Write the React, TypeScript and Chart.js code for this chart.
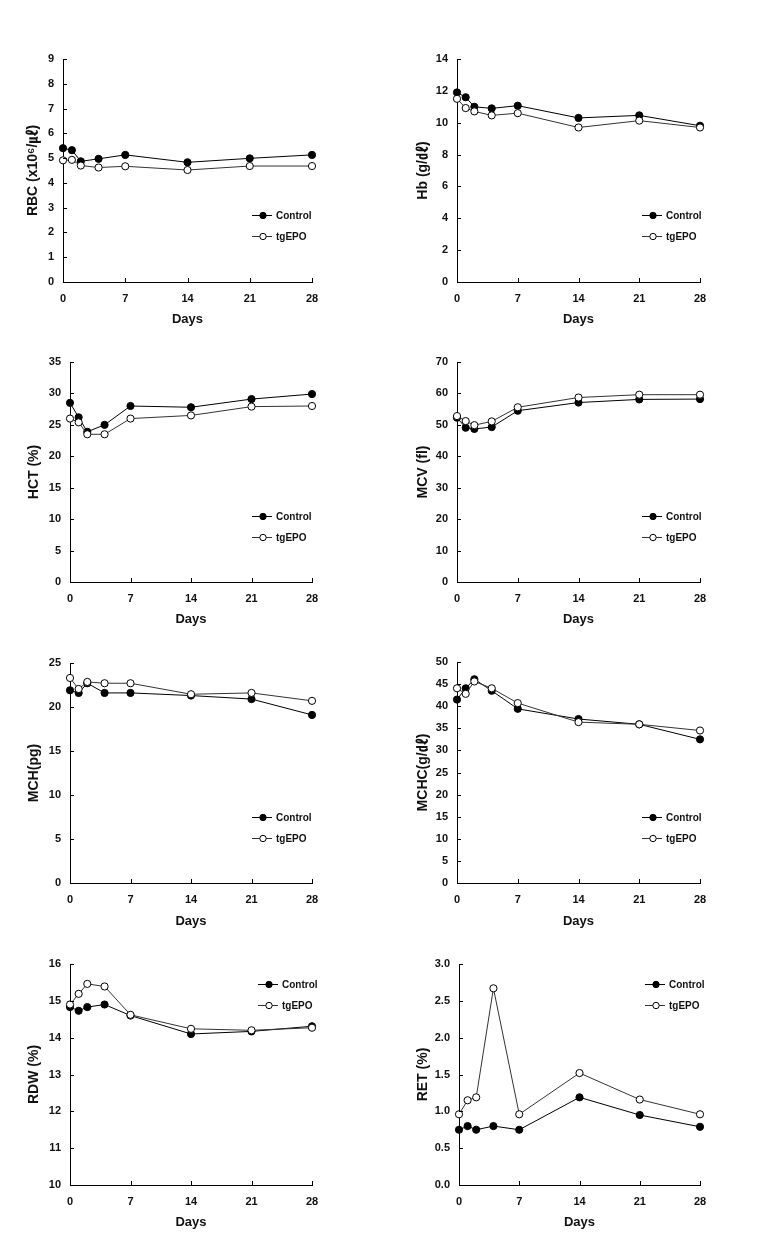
import React, { useEffect, useRef } from "react";
import { Chart, registerables } from "chart.js";

Chart.register(...registerables);

// ---------- data ----------
const days = [0, 1, 2, 4, 7, 14, 21, 28];
const dayTicks = [0, 7, 14, 21, 28];
const seriesNames = ["Control", "tgEPO"];

const rbcControl = [5.4, 5.32, 4.87, 4.97, 5.13, 4.83, 4.99, 5.13];
const rbcTgEPO = [4.91, 4.93, 4.7, 4.62, 4.67, 4.52, 4.68, 4.68];
const rbcTicks = [0, 1, 2, 3, 4, 5, 6, 7, 8, 9];

const hbControl = [11.9, 11.6, 11.0, 10.9, 11.07, 10.3, 10.46, 9.81];
const hbTgEPO = [11.5, 10.92, 10.71, 10.46, 10.6, 9.7, 10.13, 9.7];
const hbTicks = [0, 2, 4, 6, 8, 10, 12, 14];

const hctControl = [28.5, 26.2, 23.9, 25.0, 28.0, 27.8, 29.1, 29.9];
const hctTgEPO = [26.0, 25.4, 23.5, 23.5, 26.0, 26.5, 27.9, 28.0];
const hctTicks = [0, 5, 10, 15, 20, 25, 30, 35];

const mcvControl = [52.3, 49.1, 48.7, 49.3, 54.5, 57.1, 58.1, 58.2];
const mcvTgEPO = [52.8, 51.2, 49.9, 51.1, 55.6, 58.7, 59.6, 59.6];
const mcvTicks = [0, 10, 20, 30, 40, 50, 60, 70];

const mchControl = [21.9, 21.6, 22.7, 21.6, 21.6, 21.3, 20.9, 19.1];
const mchTgEPO = [23.3, 22.05, 22.85, 22.7, 22.7, 21.45, 21.6, 20.7];
const mchTicks = [0, 5, 10, 15, 20, 25];

const mchcControl = [41.5, 44.05, 46.1, 43.5, 39.4, 37.1, 35.9, 32.5];
const mchcTgEPO = [44.05, 42.8, 45.6, 44.05, 40.7, 36.4, 35.9, 34.5];
const mchcTicks = [0, 5, 10, 15, 20, 25, 30, 35, 40, 45, 50];

const rdwControl = [14.83, 14.73, 14.83, 14.9, 14.6, 14.1, 14.17, 14.31];
const rdwTgEPO = [14.9, 15.19, 15.46, 15.39, 14.62, 14.24, 14.2, 14.27];
const rdwTicks = [10, 11, 12, 13, 14, 15, 16];

const retControl = [0.75, 0.8, 0.75, 0.8, 0.75, 1.19, 0.95, 0.79];
const retTgEPO = [0.96, 1.15, 1.19, 2.67, 0.96, 1.52, 1.16, 0.96];
const retTicks = [0, 0.5, 1.0, 1.5, 2.0, 2.5, 3.0];

// ---------- layout / style ----------
const FONT = "'Liberation Sans', Arial, 'Noto Sans CJK KR', sans-serif";
const PAGE_OFFSET = 8;

type Box = { x: number; y: number; w: number; h: number };
type Area = { l: number; t: number; r: number; b: number };
type PanelDef = {
  title: string;
  control: number[];
  tgepo: number[];
  yTicks: number[];
  decimals: number;
  box: Box;
  area: Area;
  daysY: number;
  titleX: number;
  legend: { dx: number; fy: number };
};

const LEFT = { x: 10, w: 360 };
const RIGHT = { x: 395, w: 370 };
const ROWS = [40, 340, 640, 940];
const ROW_H = 295;

const panels: PanelDef[] = [
  {
    title: "RBC (x10\u2076/\u3395)", control: rbcControl, tgepo: rbcTgEPO, yTicks: rbcTicks, decimals: 0,
    box: { x: LEFT.x, y: ROWS[0], w: LEFT.w, h: ROW_H }, area: { l: 63, t: 59, r: 312, b: 282 },
    daysY: 319, titleX: 33, legend: { dx: 60, fy: 0.7 },
  },
  {
    title: "Hb (g/\u3397)", control: hbControl, tgepo: hbTgEPO, yTicks: hbTicks, decimals: 0,
    box: { x: RIGHT.x, y: ROWS[0], w: RIGHT.w, h: ROW_H }, area: { l: 457, t: 59, r: 700, b: 282 },
    daysY: 319, titleX: 423, legend: { dx: 58, fy: 0.7 },
  },
  {
    title: "HCT (%)", control: hctControl, tgepo: hctTgEPO, yTicks: hctTicks, decimals: 0,
    box: { x: LEFT.x, y: ROWS[1], w: LEFT.w, h: ROW_H }, area: { l: 70, t: 362, r: 312, b: 582 },
    daysY: 619, titleX: 34, legend: { dx: 60, fy: 0.7 },
  },
  {
    title: "MCV (fl)", control: mcvControl, tgepo: mcvTgEPO, yTicks: mcvTicks, decimals: 0,
    box: { x: RIGHT.x, y: ROWS[1], w: RIGHT.w, h: ROW_H }, area: { l: 457, t: 362, r: 700, b: 582 },
    daysY: 619, titleX: 423, legend: { dx: 58, fy: 0.7 },
  },
  {
    title: "MCH(pg)", control: mchControl, tgepo: mchTgEPO, yTicks: mchTicks, decimals: 0,
    box: { x: LEFT.x, y: ROWS[2], w: LEFT.w, h: ROW_H }, area: { l: 70, t: 663, r: 312, b: 883 },
    daysY: 921, titleX: 34, legend: { dx: 60, fy: 0.7 },
  },
  {
    title: "MCHC(g/\u3397)", control: mchcControl, tgepo: mchcTgEPO, yTicks: mchcTicks, decimals: 0,
    box: { x: RIGHT.x, y: ROWS[2], w: RIGHT.w, h: ROW_H }, area: { l: 457, t: 662, r: 700, b: 883 },
    daysY: 921, titleX: 423, legend: { dx: 58, fy: 0.7 },
  },
  {
    title: "RDW (%)", control: rdwControl, tgepo: rdwTgEPO, yTicks: rdwTicks, decimals: 0,
    box: { x: LEFT.x, y: ROWS[3], w: LEFT.w, h: ROW_H }, area: { l: 70, t: 964, r: 312, b: 1185 },
    daysY: 1222, titleX: 34, legend: { dx: 54, fy: 0.092 },
  },
  {
    title: "RET (%)", control: retControl, tgepo: retTgEPO, yTicks: retTicks, decimals: 1,
    box: { x: RIGHT.x, y: ROWS[3], w: RIGHT.w, h: ROW_H }, area: { l: 459, t: 964, r: 700, b: 1185 },
    daysY: 1222, titleX: 423, legend: { dx: 55, fy: 0.092 },
  },
];

// ---------- plugins ----------
const innerTicks = {
  id: "innerTicks",
  afterDraw(chart: any) {
    const { ctx, chartArea: a, scales } = chart;
    ctx.save();
    ctx.strokeStyle = "#000";
    ctx.lineWidth = 1;
    ctx.beginPath();
    scales.y.ticks.forEach((t: any) => {
      const py = Math.round(scales.y.getPixelForValue(t.value)) + 0.5;
      ctx.moveTo(a.left, py);
      ctx.lineTo(a.left + 4, py);
    });
    scales.x.ticks.forEach((t: any) => {
      const px = Math.round(scales.x.getPixelForValue(t.value)) + 0.5;
      ctx.moveTo(px, a.bottom);
      ctx.lineTo(px, a.bottom - 4);
    });
    ctx.stroke();
    ctx.restore();
  },
};

const sketchLegend = {
  id: "sketchLegend",
  afterDraw(chart: any, _args: any, opts: any) {
    const { ctx, chartArea: a } = chart;
    const x0 = Math.round(a.right - opts.dx);
    let y = Math.round(a.top + opts.fy * (a.bottom - a.top));
    chart.data.datasets.forEach((ds: any) => {
      ctx.save();
      ctx.strokeStyle = ds.borderColor;
      ctx.lineWidth = 1;
      ctx.beginPath();
      ctx.moveTo(x0, y + 0.5);
      ctx.lineTo(x0 + 20, y + 0.5);
      ctx.stroke();
      ctx.beginPath();
      ctx.arc(x0 + 11, y + 0.5, 3.2, 0, Math.PI * 2);
      ctx.fillStyle = ds.pointBackgroundColor;
      ctx.fill();
      ctx.strokeStyle = "#000";
      ctx.stroke();
      ctx.fillStyle = "#111";
      ctx.font = `bold 10px ${FONT}`;
      ctx.textBaseline = "middle";
      ctx.textAlign = "left";
      ctx.fillText(ds.label, x0 + 24, y + 1);
      ctx.restore();
      y += 21;
    });
  },
};

function Panel({ p }: { p: PanelDef }) {
  const ref = useRef<HTMLCanvasElement>(null);
  useEffect(() => {
    const { box, area } = p;
    const yMin = p.yTicks[0];
    const yMax = p.yTicks[p.yTicks.length - 1];
    const yStep = p.yTicks[1] - p.yTicks[0];
    const yLH = 14 * 1.2;
    const xLH = 13 * 1.2;
    const chart = new Chart(ref.current as HTMLCanvasElement, {
      type: "line",
      data: {
        datasets: [
          {
            label: seriesNames[0],
            data: days.map((d, i) => ({ x: d, y: p.control[i] })),
            borderColor: "#000",
            borderWidth: 1,
            pointBackgroundColor: "#000",
            pointBorderColor: "#000",
            pointBorderWidth: 1,
            pointRadius: 3.6,
            tension: 0,
            clip: false as any,
            order: 1,
          },
          {
            label: seriesNames[1],
            data: days.map((d, i) => ({ x: d, y: p.tgepo[i] })),
            borderColor: "#333",
            borderWidth: 1,
            pointBackgroundColor: "#fff",
            pointBorderColor: "#000",
            pointBorderWidth: 1,
            pointRadius: 3.6,
            tension: 0,
            clip: false as any,
            order: 0,
          },
        ],
      },
      options: {
        responsive: false,
        animation: false,
        devicePixelRatio: 1,
        layout: {
          padding: { top: area.t - box.y, right: box.x + box.w - area.r, left: 0, bottom: 0 },
        },
        plugins: {
          legend: { display: false },
          tooltip: { enabled: false },
          sketchLegend: p.legend,
        } as any,
        scales: {
          x: {
            type: "linear",
            min: dayTicks[0],
            max: dayTicks[dayTicks.length - 1],
            afterBuildTicks: (s: any) => {
              s.ticks = dayTicks.map((v) => ({ value: v }));
            },
            ticks: {
              padding: 10,
              color: "#111",
              maxRotation: 0,
              autoSkip: false,
              font: { family: FONT, size: 11, weight: "bold" },
            },
            grid: { display: true, drawOnChartArea: false, drawTicks: false },
            border: { display: true, color: "#000", width: 1 },
            title: {
              display: true,
              text: "Days",
              color: "#111",
              font: { family: FONT, size: 13, weight: "bold" },
              padding: { top: 0, bottom: box.y + box.h - p.daysY - xLH / 2 },
            },
            afterFit: (s: any) => {
              s.height = box.y + box.h - area.b;
            },
          },
          y: {
            type: "linear",
            min: yMin,
            max: yMax,
            ticks: {
              stepSize: yStep,
              padding: 9,
              color: "#111",
              font: { family: FONT, size: 11, weight: "bold" },
              callback: (v: any) => Number(v).toFixed(p.decimals),
            },
            grid: { display: true, drawOnChartArea: false, drawTicks: false },
            border: { display: true, color: "#000", width: 1 },
            title: {
              display: true,
              text: p.title,
              color: "#111",
              font: { family: FONT, size: 14, weight: "bold" },
              padding: { top: p.titleX - box.x - yLH / 2, bottom: 0 },
            },
            afterFit: (s: any) => {
              s.width = area.l - box.x;
            },
          },
        },
      } as any,
      plugins: [innerTicks, sketchLegend],
    });
    return () => chart.destroy();
  }, [p]);
  return (
    <canvas
      ref={ref}
      width={p.box.w}
      height={p.box.h}
      style={{
        position: "absolute",
        left: p.box.x - PAGE_OFFSET,
        top: p.box.y - PAGE_OFFSET,
        width: p.box.w,
        height: p.box.h,
      }}
    />
  );
}

export default function App() {
  return (
    <div style={{ position: "relative", width: 757, height: 1224, overflow: "hidden", background: "#fff" }}>
      {panels.map((p, i) => (
        <Panel key={i} p={p} />
      ))}
    </div>
  );
}
